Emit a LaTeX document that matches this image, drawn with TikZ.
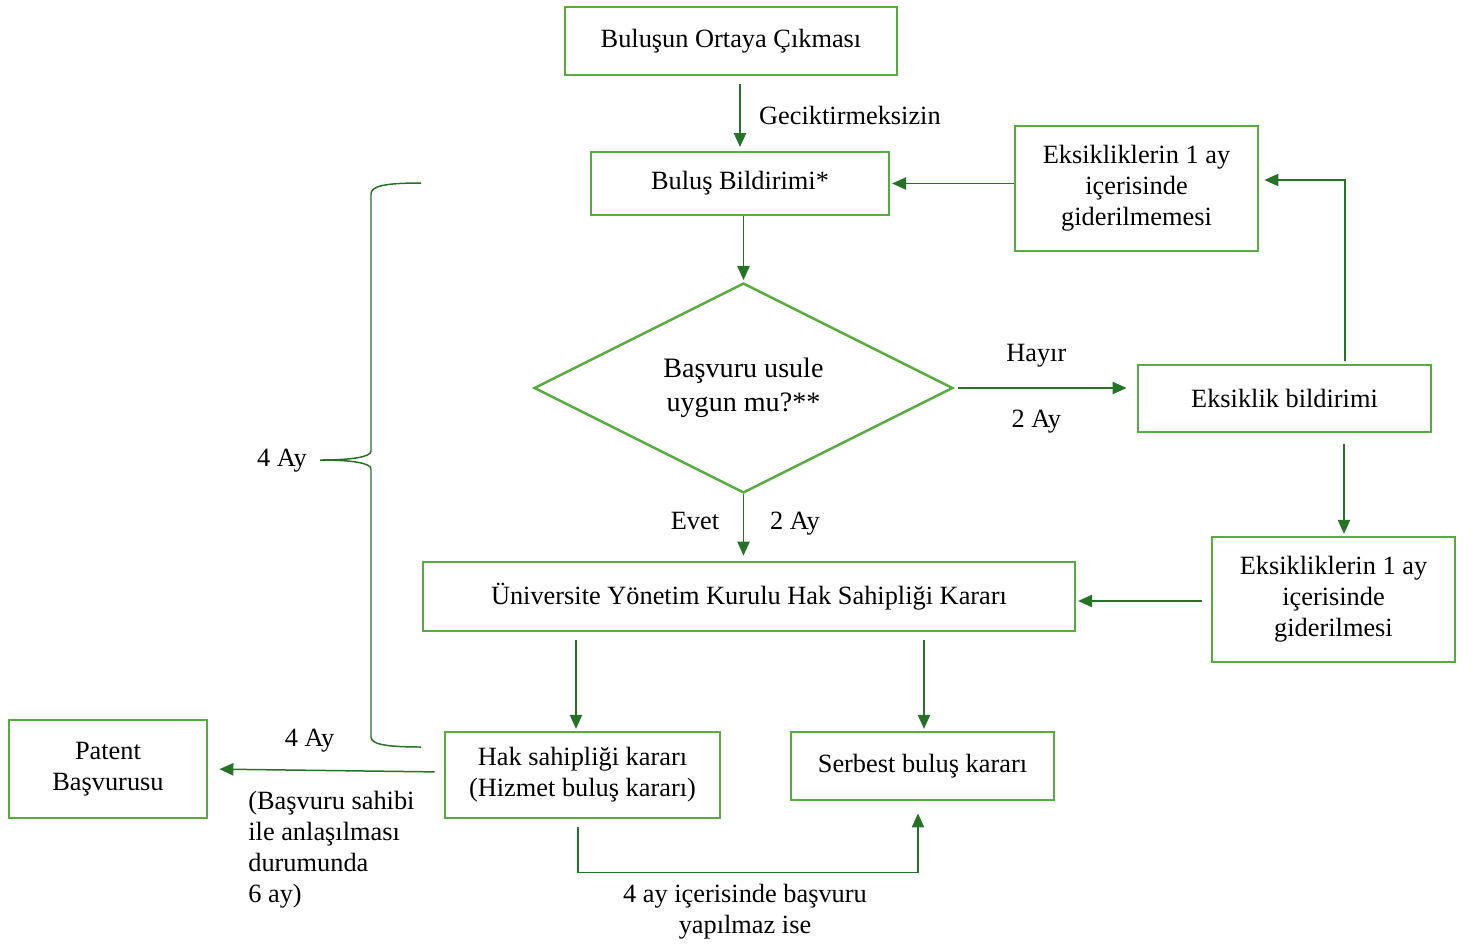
\documentclass[tikz,border=0pt]{standalone}
\usepackage{fontspec}
\setmainfont{Liberation Serif}
\usetikzlibrary{arrows.meta,shapes.geometric}
\definecolor{boxgreen}{RGB}{86,172,60}
\definecolor{linegreen}{RGB}{38,114,38}

\begin{document}
\begin{tikzpicture}[
                x=0.02cm, y=-0.02cm,
                box/.style={draw=boxgreen,line width=1.6pt,align=center,inner sep=0pt},
                arr/.style={draw=linegreen,line width=0.85pt,-{Triangle[length=8pt,width=7pt]}},
                every node/.append style={black,font=\fontsize{15}{17.6}\selectfont}
            ]
                \useasboundingbox (0,0) rectangle (1472,947);

                \node[box,minimum width=6.64cm,minimum height=1.36cm] (ortaya) at (731,41) {Buluşun Ortaya Çıkması};
                \node[box,minimum width=5.96cm,minimum height=1.26cm] (bildirim) at (740,183.5) {Buluş Bildirimi*};
                \node[box,minimum width=4.86cm,minimum height=2.5cm] (giderilmemesi) at (1136.5,188.5) {Eksikliklerin 1 ay\\içerisinde\\giderilmemesi};
                \node[draw=boxgreen,line width=1.4pt,shape=diamond,shape aspect=2,inner sep=0pt,minimum width=8.38cm,minimum height=4.2cm,align=center,font=\fontsize{16}{19.5}\selectfont] (usul) at (743.5,388) {Başvuru usule\\uygun mu?**};
                \node[box,minimum width=5.86cm,minimum height=1.34cm] (eksiklik) at (1284.5,398.5) {Eksiklik bildirimi};
                \node[box,minimum width=4.86cm,minimum height=2.5cm] (giderilmesi) at (1333.5,599.5) {Eksikliklerin 1 ay\\içerisinde\\giderilmesi};
                \node[box,minimum width=13.04cm,minimum height=1.38cm] (karar) at (749,596.5) {Üniversite Yönetim Kurulu Hak Sahipliği Kararı};
                \node[box,minimum width=5.5cm,minimum height=1.72cm] (hak) at (582.5,775) {Hak sahipliği kararı\\(Hizmet buluş kararı)};
                \node[box,minimum width=5.26cm,minimum height=1.36cm] (serbest) at (922.5,766) {Serbest buluş kararı};
                \node[box,minimum width=3.96cm,minimum height=1.96cm] (patent) at (108,769) {Patent\\Başvurusu};

                \draw[arr,shorten <=0.16cm,shorten >=2pt] (bildirim.north |- ortaya.south) -- (bildirim.north);
                \node[anchor=west] (gecikme) at (753,115) {Geciktirmeksizin};
                \draw[arr,shorten >=1pt] (giderilmemesi.west |- bildirim.east) -- (bildirim.east);
                \draw[arr,shorten >=1pt] (usul.north |- bildirim.south) -- (usul.north);
                \draw[arr,shorten <=0.08cm,shorten >=0.2cm] (usul.east) -- node[pos=0.45,above=0.28cm]{Hayır} node[pos=0.45,below=0.3cm]{2 Ay} (eksiklik.west |- usul.east);
                \draw[arr,shorten >=0.1cm] ([xshift=1.21cm,yshift=0.06cm]eksiklik.north) |- ([yshift=0.17cm]giderilmemesi.east);
                \draw[arr,shorten <=0.22cm,shorten >=1pt] ([xshift=1.19cm]eksiklik.south) -- ([xshift=1.19cm]eksiklik.south |- giderilmesi.north);
                \draw[arr,shorten <=0.18cm,shorten >=1pt] ([yshift=-0.03cm]giderilmesi.west) -- ([yshift=-0.03cm]giderilmesi.west -| karar.east);
                \draw[arr,shorten >=0.1cm] (usul.south) -- (usul.south |- karar.north);
                \node (evet) at (695,521) {Evet};
                \node (ikiay) at (795,524) {2 Ay};
                \draw[arr,shorten <=0.16cm,shorten >=1pt] ([xshift=-0.13cm]hak.north |- karar.south) -- ([xshift=-0.13cm]hak.north);
                \draw[arr,shorten <=0.16cm,shorten >=1pt] ([xshift=0.03cm]serbest.north |- karar.south) -- ([xshift=0.03cm]serbest.north);
                \draw[arr,shorten <=0.18cm,shorten >=0.22cm] ([yshift=0.06cm]hak.west) -- (patent.east) node[pos=0.57,above=0.24cm]{4 Ay};
                \node[anchor=north west,align=left,inner sep=0pt] (anlasma) at (248,791) {(Başvuru sahibi\\ile anlaşılması\\durumunda\\6 ay)};
                \draw[arr,shorten <=0.16cm,shorten >=0.24cm] ([xshift=-0.09cm]hak.south) -- ++(0,53) -| ([xshift=-0.09cm]serbest.south);
                \node[align=center] (yapilmaz) at (745,912) {4 ay içerisinde başvuru\\yapılmaz ise};

                % parantez
                \draw[linegreen,line width=0.85pt] (421,183) .. controls (385,183) and (371,186) .. (371,194) -- (371,451)
                    .. controls (371,457) and (352,460) .. (320,460)
                    .. controls (352,460) and (371,463) .. (371,469) -- (371,737)
                    .. controls (371,744) and (385,747) .. (421,747);
                \node (dortay) at (282,461) {4 Ay};
            \end{tikzpicture}
\end{document}
